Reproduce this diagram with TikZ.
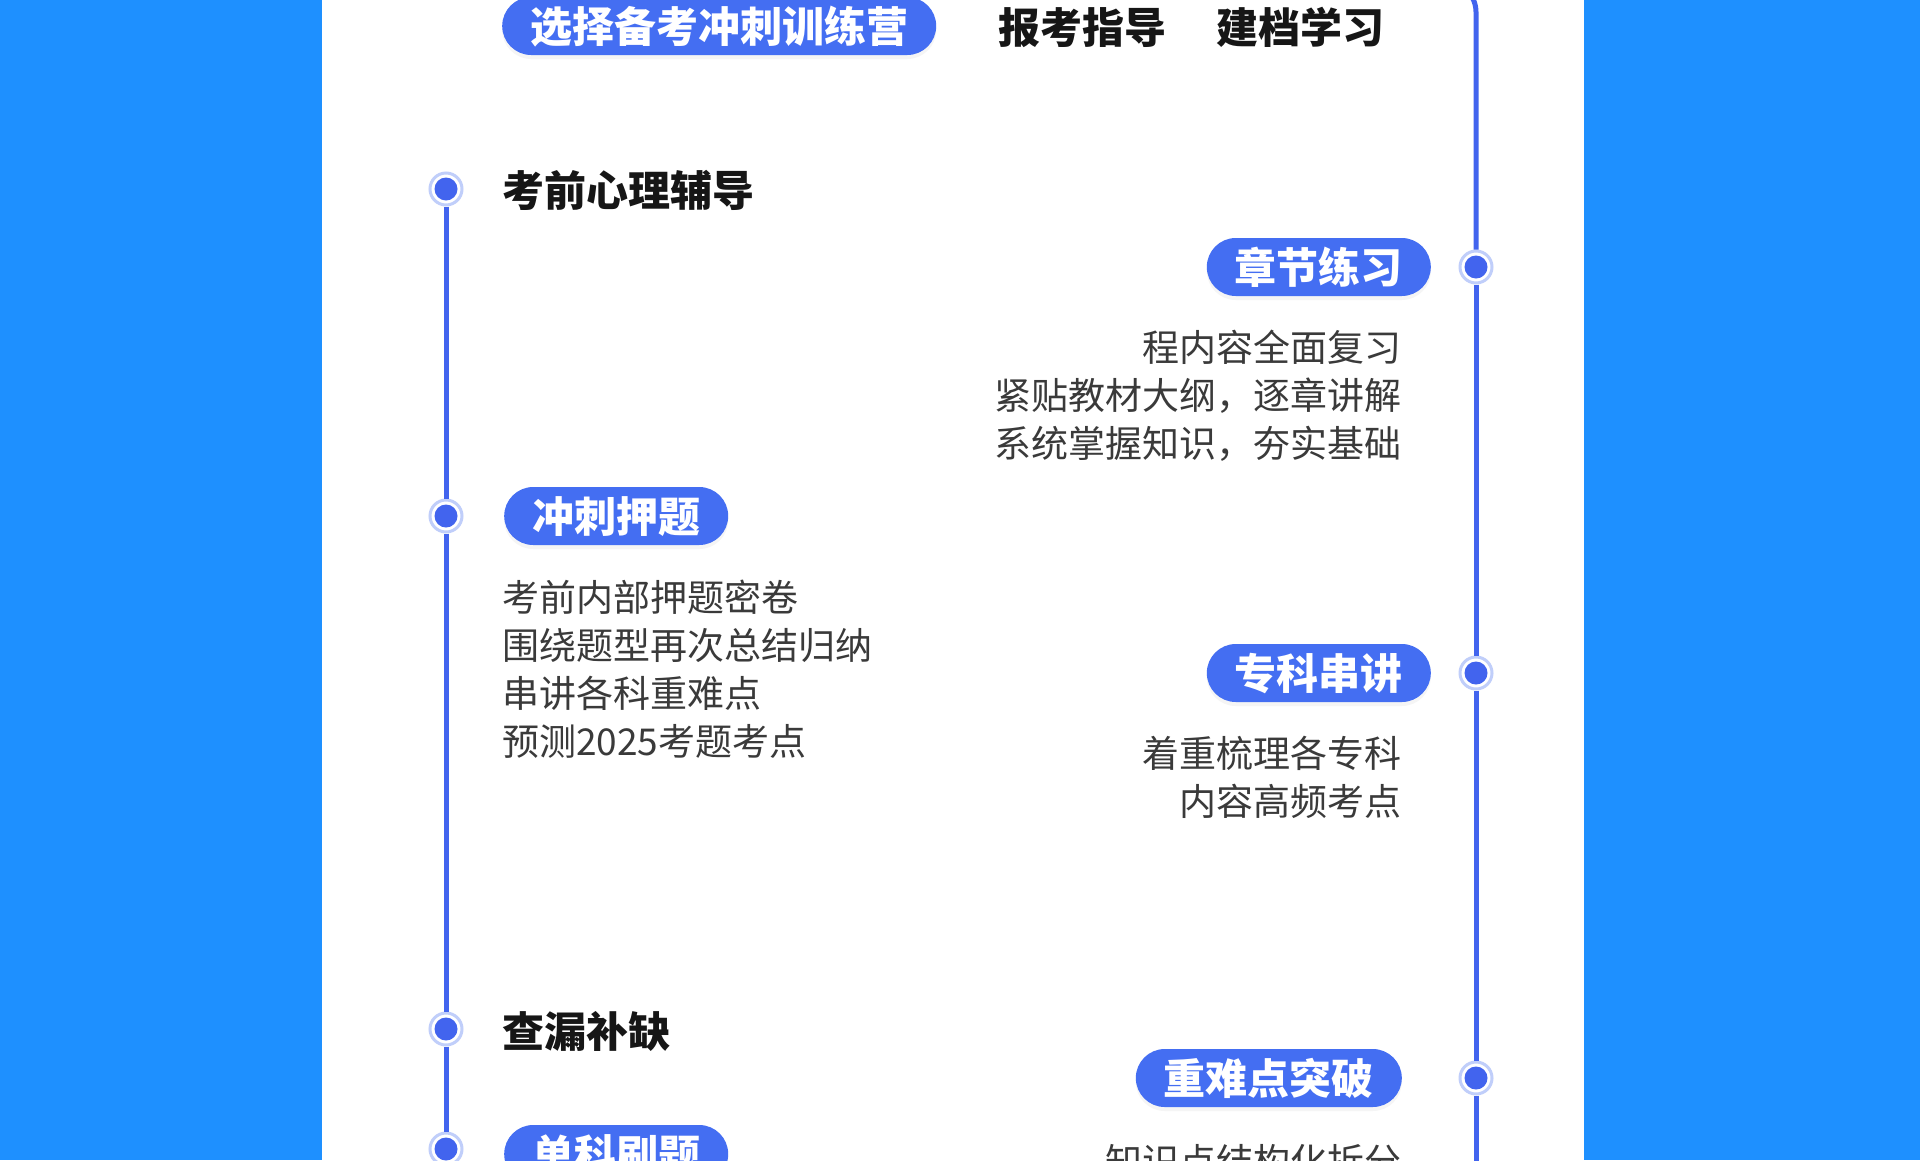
\documentclass[tikz,border=0pt]{standalone}
\usepackage{fontspec}
\setmainfont{Noto Sans CJK SC}
\usetikzlibrary{shapes.misc,shadows}
\definecolor{bgblue}{RGB}{30,144,255}
\definecolor{lineblue}{RGB}{66,100,238}
\definecolor{pillblue}{RGB}{68,110,242}
\definecolor{ringblue}{RGB}{192,206,250}
\definecolor{bodygray}{RGB}{58,58,58}
\definecolor{headblack}{RGB}{22,22,22}
\tikzset{
  pill/.style={rounded rectangle, fill=pillblue, text=white,
    font=\fontsize{42}{42}\selectfont\bfseries, minimum height=58pt,
    inner xsep=19pt, inner ysep=0pt, text height=37pt, text depth=5pt,
    drop shadow={opacity=0.08, shadow xshift=0pt, shadow yshift=-4pt}},
  head/.style={text=headblack, font=\fontsize{42}{42}\selectfont\bfseries,
    inner sep=0pt, text height=37pt, text depth=5pt},
  body/.style={text=bodygray, font=\fontsize{37}{37}\selectfont,
    inner sep=0pt, text height=32.5pt, text depth=4.5pt},
  dot/.style={circle, fill=white, draw=ringblue, line width=3pt,
    minimum size=32pt, inner sep=0pt,
    path picture={\fill[lineblue] (path picture bounding box.center) circle (11.5pt);}},
  track/.style={draw=lineblue, line width=5pt}
}
\begin{document}
\begin{tikzpicture}[x=1pt,y=-1pt]
\useasboundingbox (0,0) rectangle (1920,1160);
\clip (0,0) rectangle (1920,1160);
\fill[bgblue] (0,0) rectangle (1920,1160);
\fill[white] (322,0) rectangle (1584,1160);

% timeline dots
\node[dot] (l1) at (446,189) {};
\node[dot] (l2) at (446,516) {};
\node[dot] (l3) at (446,1029) {};
\node[dot] (l4) at (446,1149) {};
\node[dot] (r1) at (1476,267) {};
\node[dot] (r2) at (1476,673) {};
\node[dot] (r3) at (1476,1078) {};
\coordinate (lbot) at (446,1220);
\coordinate (rtop) at (1300,-18);
\coordinate (rcorner) at (1476,-18);
\coordinate (rbot) at (1476,1220);

% tracks
\draw[track] (l1) -- (l2);
\draw[track] (l2) -- (l3);
\draw[track] (l3) -- (l4);
\draw[track] (l4) -- (lbot);
\draw[track, rounded corners=30pt] (rtop) -- (rcorner) -- (r1);
\draw[track] (r1) -- (r2);
\draw[track] (r2) -- (r3);
\draw[track] (r3) -- (rbot);

% top row
\node[pill, anchor=west] (camp) at (502,26) {选择备考冲刺训练营};
\node[head, anchor=west] (guide) at (998,27) {报考指导};
\node[head, anchor=west] (file) at (1216,27) {建档学习};

% left column
\node[head, anchor=west] (psy) at (502,190) {考前心理辅导};
\node[pill, anchor=west] (sprint) at (504,516) {冲刺押题};
\node[body, anchor=west] (s1) at (502,597) {考前内部押题密卷};
\node[body, anchor=west] (s2) at (502,645) {围绕题型再次总结归纳};
\node[body, anchor=west] (s3) at (502,693) {串讲各科重难点};
\node[body, anchor=west] (s4) at (502,741) {预测2025考题考点};
\node[head, anchor=west] (gap) at (502,1031) {查漏补缺};
\node[pill, anchor=west] (single) at (504,1154) {单科刷题};

% right column
\node[pill, anchor=east] (chap) at (1431,267) {章节练习};
\node[body, anchor=east] (c1) at (1402,347) {程内容全面复习};
\node[body, anchor=east] (c2) at (1402,395) {紧贴教材大纲，逐章讲解};
\node[body, anchor=east] (c3) at (1402,443) {系统掌握知识，夯实基础};
\node[pill, anchor=east] (spec) at (1431,673) {专科串讲};
\node[body, anchor=east] (p1) at (1402,753) {着重梳理各专科};
\node[body, anchor=east] (p2) at (1402,801) {内容高频考点};
\node[pill, anchor=east] (hard) at (1402,1078) {重难点突破};
\node[body, anchor=east] (h1) at (1402,1161) {知识点结构化拆分};
\end{tikzpicture}
\end{document}
